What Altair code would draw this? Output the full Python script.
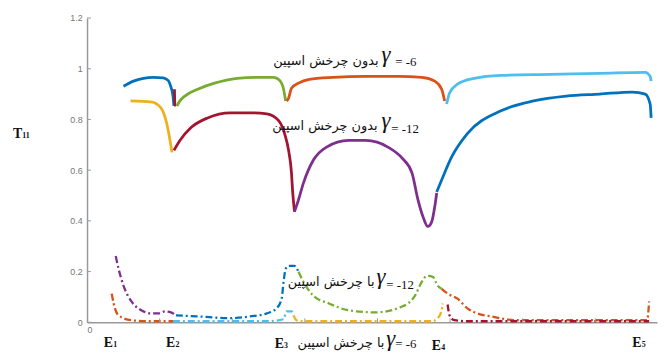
import altair as alt
import pandas as pd

# ---------------- data (x: energy axis units, y: T11) ----------------
# gamma = -6, no spin (solid)
blue1_x = [0.503, 0.639, 0.776, 0.912, 1.048, 1.116, 1.156, 1.184, 1.197]
blue1_y = [0.931, 0.951, 0.962, 0.966, 0.964, 0.954, 0.927, 0.892, 0.853]
mar1_x = [1.204, 1.210, 1.224]
mar1_y = [0.919, 0.860, 0.853]
green1_x = [1.238, 1.279, 1.347, 1.524, 1.755, 2.068, 2.340, 2.571, 2.653, 2.707, 2.735]
green1_y = [0.853, 0.873, 0.892, 0.919, 0.943, 0.962, 0.966, 0.966, 0.954, 0.919, 0.873]
orange1_x = [2.748, 2.776, 2.816, 2.912, 3.061, 3.388, 3.837, 4.286, 4.612, 4.789, 4.884, 4.925]
orange1_y = [0.873, 0.884, 0.923, 0.943, 0.958, 0.966, 0.970, 0.970, 0.966, 0.951, 0.919, 0.873]
lblue1_x = [4.952, 4.993, 5.102, 5.333, 5.701, 6.381, 7.061, 7.687, 7.755, 7.769]
lblue1_y = [0.861, 0.904, 0.939, 0.962, 0.974, 0.978, 0.982, 0.986, 0.970, 0.951]

# gamma = -12, no spin (solid)
yellow2_x = [0.599, 0.884, 1.020, 1.088, 1.143, 1.170]
yellow2_y = [0.873, 0.869, 0.845, 0.795, 0.717, 0.670]
mar2_x = [1.197, 1.279, 1.429, 1.660, 1.973, 2.245, 2.476, 2.639, 2.721, 2.776, 2.816, 2.830, 2.857]
mar2_y = [0.678, 0.717, 0.767, 0.806, 0.826, 0.826, 0.822, 0.795, 0.744, 0.678, 0.588, 0.522, 0.436]
purple2_x = [2.857, 2.912, 2.980, 3.116, 3.293, 3.605, 3.837, 4.150, 4.340, 4.476, 4.558, 4.626,
             4.694, 4.748, 4.789, 4.816]
purple2_y = [0.436, 0.483, 0.549, 0.639, 0.690, 0.717, 0.717, 0.690, 0.647, 0.588, 0.483, 0.417,
             0.378, 0.397, 0.456, 0.510]
blue2_x = [4.816, 4.884, 5.020, 5.238, 5.701, 6.150, 6.599, 7.061, 7.510, 7.687, 7.755, 7.769]
blue2_y = [0.514, 0.561, 0.651, 0.744, 0.834, 0.873, 0.892, 0.900, 0.908, 0.900, 0.861, 0.806]

# gamma = -12, with spin (dash-dot)
purple3_x = [0.395, 0.435, 0.503, 0.612, 0.748, 0.884, 0.980, 1.075, 1.156, 1.224]
purple3_y = [0.261, 0.210, 0.144, 0.082, 0.047, 0.035, 0.035, 0.043, 0.039, 0.027]
blue3_x = [1.224, 1.524, 1.973, 2.245, 2.476, 2.612, 2.680, 2.707, 2.735, 2.776, 2.857, 2.912]
blue3_y = [0.027, 0.023, 0.016, 0.023, 0.035, 0.055, 0.093, 0.160, 0.210, 0.222, 0.222, 0.199]
green3_x = [2.912, 2.980, 3.116, 3.333, 3.605, 3.973, 4.340, 4.517, 4.612, 4.680, 4.762, 4.830, 4.884]
green3_y = [0.199, 0.160, 0.105, 0.074, 0.047, 0.039, 0.062, 0.105, 0.160, 0.183, 0.179, 0.144, 0.132]
orange3_x = [4.884, 4.966, 5.102, 5.238, 5.374, 5.565, 5.918, 6.966, 7.714, 7.741]
orange3_y = [0.132, 0.113, 0.093, 0.055, 0.035, 0.023, 0.008, 0.008, 0.008, 0.082]

# gamma = -6, with spin (dash-dot)
orange4_x = [0.340, 0.367, 0.435, 0.612, 0.844, 1.184]
orange4_y = [0.113, 0.074, 0.027, 0.008, 0.004, 0.004]
lblue4_x = [1.184, 1.796, 2.476, 2.707, 2.748, 2.816, 2.844]
lblue4_y = [0.004, 0.004, 0.004, 0.012, 0.043, 0.043, 0.027]
yellow4_x = [2.844, 2.884, 2.980, 4.748, 4.830, 4.884, 4.898]
yellow4_y = [0.027, 0.008, 0.004, 0.004, 0.016, 0.047, 0.074]
mar4_x = [4.966, 4.993, 5.061, 5.238, 7.741]
mar4_y = [0.070, 0.027, 0.008, 0.004, 0.004]

series_names = ["blue1", "mar1", "green1", "orange1", "lblue1",
                "yellow2", "mar2", "purple2", "blue2",
                "purple3", "blue3", "green3", "orange3",
                "orange4", "lblue4", "yellow4", "mar4"]
series_colors = ["#0072BD", "#A2142F", "#77AC30", "#D95319", "#4DBEEE",
                 "#EDB120", "#A2142F", "#7E2F8E", "#0072BD",
                 "#7E2F8E", "#0072BD", "#77AC30", "#D95319",
                 "#D95319", "#4DBEEE", "#EDB120", "#A2142F"]
solid_names = series_names[:9]

y_ticks = [0, 0.2, 0.4, 0.6, 0.8, 1.0, 1.2]
x_ticks = [1, 2, 3, 4, 5, 6, 7]

persian_no = "بدون چرخش اسپین"
persian_with = "با چرخش اسپین"
ann_persian = [persian_no, persian_no, persian_with, persian_with]
ann_persian_x = [4.014, 4.000, 3.959, 4.095]
ann_persian_y = [1.013, 0.760, 0.144, -0.097]
ann_gamma_x = [4.054, 4.054, 3.986, 4.122]
ann_gamma_y = [1.028, 0.767, 0.152, -0.093]
ann_val = ["= -6", "= -12", "= -12", "= -6"]
ann_val_x = [4.245, 4.190, 4.122, 4.245]
ann_val_y = [1.009, 0.748, 0.132, -0.101]

e_labels = ["E", "E", "E", "E", "E"]
e_subs = ["1", "2", "3", "4", "5"]
e_x = [0.231, 1.088, 2.585, 4.748, 7.510]
e_y = [-0.097, -0.097, -0.101, -0.108, -0.097]

# ---------------- build tables ----------------
all_xy = {
    "blue1": (blue1_x, blue1_y), "mar1": (mar1_x, mar1_y), "green1": (green1_x, green1_y),
    "orange1": (orange1_x, orange1_y), "lblue1": (lblue1_x, lblue1_y),
    "yellow2": (yellow2_x, yellow2_y), "mar2": (mar2_x, mar2_y),
    "purple2": (purple2_x, purple2_y), "blue2": (blue2_x, blue2_y),
    "purple3": (purple3_x, purple3_y), "blue3": (blue3_x, blue3_y),
    "green3": (green3_x, green3_y), "orange3": (orange3_x, orange3_y),
    "orange4": (orange4_x, orange4_y), "lblue4": (lblue4_x, lblue4_y),
    "yellow4": (yellow4_x, yellow4_y), "mar4": (mar4_x, mar4_y),
}
rows = []
for name in series_names:
    xs_, ys_ = all_xy[name]
    for i, (a, b) in enumerate(zip(xs_, ys_)):
        rows.append({"s": name, "i": i, "x": a, "y": b, "solid": name in solid_names})
df = pd.DataFrame(rows)

XS = alt.Scale(domain=[0, 7.85], nice=False, zero=False)
YS = alt.Scale(domain=[0, 1.2], nice=False)
col = alt.Color("s:N", scale=alt.Scale(domain=series_names, range=series_colors), legend=None)

base = alt.Chart(df)
solid = base.transform_filter("datum.solid").mark_line(strokeWidth=2.8, interpolate="monotone").encode(
    x=alt.X("x:Q", scale=XS, axis=alt.Axis(values=[0], format="~g", grid=False, ticks=False, tickSize=0,
                                            labelPadding=3, labelFontSize=9, labelColor="#777",
                                            domainColor="#999", domainWidth=1.5, title=None, labelFont="Liberation Sans")),
    y=alt.Y("y:Q", scale=YS, axis=alt.Axis(values=y_ticks, format="~g", grid=False, ticks=False, tickSize=0,
                                            labelPadding=5, labelFontSize=9, labelColor="#777",
                                            domainColor="#999", domainWidth=1.5, title=None, labelFont="Liberation Sans")),
    color=col, detail="s:N", order="i:Q")
dashed = base.transform_filter("!datum.solid").mark_line(strokeWidth=2.3, strokeDash=[7, 3, 2, 3],
                                                          interpolate="monotone").encode(
    x=alt.X("x:Q", scale=XS), y=alt.Y("y:Q", scale=YS), color=col, detail="s:N", order="i:Q")

yt = alt.Chart(pd.DataFrame({"v": y_ticks})).mark_rule(color="#999", strokeWidth=1).encode(
    y=alt.Y("v:Q", scale=YS), x=alt.value(0), x2=alt.value(4))
xt = alt.Chart(pd.DataFrame({"v": x_ticks})).mark_rule(color="#999", strokeWidth=1).encode(
    x=alt.X("v:Q", scale=XS), y=alt.value(308), y2=alt.value(304))

ann = pd.DataFrame({"t": ann_persian, "x": ann_persian_x, "y": ann_persian_y,
                    "gx": ann_gamma_x, "gy": ann_gamma_y, "v": ann_val, "vx": ann_val_x, "vy": ann_val_y})
t_pers = alt.Chart(ann).mark_text(align="right", baseline="alphabetic", font="DejaVu Sans", fontSize=13,
                                  color="#111").encode(
    x=alt.X("x:Q", scale=XS), y=alt.Y("y:Q", scale=YS), text="t:N")
t_gam = alt.Chart(ann).mark_text(align="left", baseline="alphabetic", font="Liberation Serif", fontSize=23,
                                 fontStyle="italic", color="#111").encode(
    x=alt.X("gx:Q", scale=XS), y=alt.Y("gy:Q", scale=YS), text=alt.value("γ"))
t_val = alt.Chart(ann).mark_text(align="left", baseline="alphabetic", font="Liberation Serif", fontSize=13,
                                 color="#111").encode(
    x=alt.X("vx:Q", scale=XS), y=alt.Y("vy:Q", scale=YS), text="v:N")

edf = pd.DataFrame({"t": e_labels, "s": e_subs, "x": e_x, "y": e_y})
t_e = alt.Chart(edf).mark_text(align="left", baseline="alphabetic", font="Liberation Serif", fontSize=14,
                               fontWeight="bold", color="#111").encode(
    x=alt.X("x:Q", scale=XS), y=alt.Y("y:Q", scale=YS), text="t:N")
t_es = alt.Chart(edf).mark_text(align="left", baseline="alphabetic", font="Liberation Serif", fontSize=8,
                                fontWeight="bold", color="#111", dx=9.5).encode(
    x=alt.X("x:Q", scale=XS), y=alt.Y("y:Q", scale=YS), text="s:N")

tdf = pd.DataFrame({"t": ["T"], "s": ["11"], "x": [-1.02], "y": [0.728]})
t_t = alt.Chart(tdf).mark_text(align="left", baseline="alphabetic", font="Liberation Serif", fontSize=14,
                               fontWeight="bold", color="#111").encode(
    x=alt.X("x:Q", scale=XS), y=alt.Y("y:Q", scale=YS), text="t:N")
t_ts = alt.Chart(tdf).mark_text(align="left", baseline="alphabetic", font="Liberation Serif", fontSize=8,
                                fontWeight="bold", color="#111", dx=9.5).encode(
    x=alt.X("x:Q", scale=XS), y=alt.Y("y:Q", scale=YS), text="s:N")

chart = alt.layer(solid, dashed, yt, xt, t_pers, t_gam, t_val, t_e, t_es, t_t, t_ts).properties(
    width=577, height=308,
    autosize=alt.AutoSizeParams(type="none"),
    padding={"left": 80, "top": 8, "right": 2, "bottom": 30},
    background="white",
).configure_view(stroke=None)

chart.save("out.html", embed_options={"renderer": "svg", "actions": False})
